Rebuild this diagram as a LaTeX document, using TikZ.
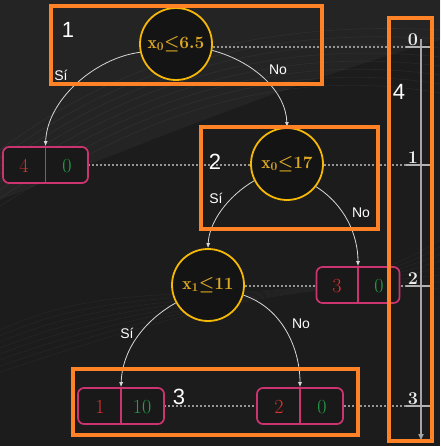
\documentclass[tikz,border=0pt]{standalone}
\usepackage{fontspec}
\newfontfamily\sansf{Liberation Sans}
\usetikzlibrary{arrows.meta}
\definecolor{bgc}{RGB}{28,28,29}
\definecolor{bgl}{RGB}{44,44,46}
\definecolor{orng}{RGB}{255,130,38}
\definecolor{gold}{RGB}{222,170,35}
\definecolor{yel}{RGB}{245,185,5}
\definecolor{mag}{RGB}{204,52,112}
\definecolor{redd}{RGB}{220,50,45}
\definecolor{grn}{RGB}{34,160,74}
\definecolor{edgec}{RGB}{215,215,215}
\definecolor{dotc}{RGB}{150,150,150}
\begin{document}
\begin{tikzpicture}[x=1pt,y=-1pt,
  decision/.style={circle,draw=yel,line width=1.8pt,fill=black!92,minimum size=72pt,inner sep=0pt,
     text=gold,font=\fontsize{17.5}{18}\selectfont\boldmath},
  leafbox/.style={draw=mag,line width=1.7pt,fill=black!90,rounded corners=6pt,minimum height=36pt,inner sep=0pt},
  leaftxt/.style={font=\fontsize{20}{20}\selectfont,inner sep=0pt},
  edge/.style={draw=edgec,line width=0.8pt,-{Latex[length=5pt,width=4pt]}},
  elabel/.style={text=white,font=\sansf\fontsize{14}{14}\selectfont,inner sep=0pt},
  level/.style={draw=dotc,line width=1.2pt,dash pattern=on 1.5pt off 2.5pt},
  hibox/.style={draw=orng,line width=4pt},
  hinum/.style={text=white,font=\sansf\fontsize{22}{22}\selectfont,inner sep=0pt},
  ticklab/.style={text=white!92!black,font=\fontsize{18}{18}\selectfont\bfseries,inner sep=0pt}]
\useasboundingbox (0,0) rectangle (440,446);
% background
\fill[bgc] (0,0) rectangle (440,446);
\fill[bgl,opacity=0.5] (0,0) -- (440,0) -- (440,40) .. controls (300,80) and (150,140) .. (0,200) -- cycle;
\foreach \k in {0,...,7}{
  \draw[white,opacity=0.05,line width=0.6pt] (0,{150+8*\k}) .. controls (120,{60+10*\k}) and (260,{20+6*\k}) .. (440,{30+9*\k});
  \draw[white,opacity=0.04,line width=0.6pt] (0,{330+6*\k}) .. controls (150,{260+9*\k}) and (300,{330-8*\k}) .. (440,{240+7*\k});
}
% level lines
\draw[level] (213,47) -- (434,47);
\draw[level] (88,165) -- (434,165);
\draw[level] (245,286) -- (434,286);
\draw[level] (164,406) -- (434,406);
% depth axis
\coordinate (axtop) at (421,39);
\coordinate (axbot) at (421,441);
\draw[draw=white!65!black,line width=1.4pt,-{Latex[length=7pt,width=6pt]}] (axtop) -- (axbot);
\foreach \yy/\lab in {47/0,165/1,286/2,406/3}{
  \draw[white!70!black,line width=1.4pt] (406,\yy) -- (434,\yy);
  \node[ticklab,anchor=south] at (413,{\yy-1}) {\lab};
}
% decision nodes
\node[decision] (root) at (176,44) {$\mathrm{x}_0{\leq}6.5$};
\node[decision] (n2) at (287,164) {$\mathrm{x}_0{\leq}17$};
\node[decision] (n3) at (208,285) {$\mathrm{x}_1{\leq}11$};
% leaves
\node[leafbox,minimum width=85pt] (l1) at (45.5,165) {};
\node[leafbox,minimum width=83pt] (l2) at (358,285) {};
\node[leafbox,minimum width=86pt] (l3) at (121,406) {};
\node[leafbox,minimum width=86pt] (l4) at (300,406) {};
\foreach \l in {l1,l2,l3,l4}{\draw[mag,line width=1.7pt] (\l.north) -- (\l.south);}
\node[leaftxt,text=redd] (l1a) at (24,166) {4};
\node[leaftxt,text=grn] (l1b) at (67,166) {0};
\node[leaftxt,text=redd] (l2a) at (337,286) {3};
\node[leaftxt,text=grn] (l2b) at (379,286) {0};
\node[leaftxt,text=redd] (l3a) at (100,407) {1};
\node[leaftxt,text=grn] (l3b) at (142,407) {10};
\node[leaftxt,text=redd] (l4a) at (279,407) {2};
\node[leaftxt,text=grn] (l4b) at (322,407) {0};
% edges
\draw[edge] (root.193) .. controls (95,58) and (47,100) .. (l1.north);
\draw[edge] (root.350) .. controls (255,62) and (286,92) .. (n2.north);
\draw[edge] (n2.207) .. controls (228,196) and (209,222) .. (n3.north);
\draw[edge] (n2.322) .. controls (345,205) and (358,235) .. (l2.north);
\draw[edge] (n3.209) .. controls (142,322) and (122,352) .. (l3.north);
\draw[edge] (n3.344) .. controls (282,308) and (300,348) .. (l4.north);
\node[elabel] (e1) at (61,75) {Sí};
\node[elabel] (e2) at (278,70) {No};
\node[elabel] (e3) at (216,198) {Sí};
\node[elabel] (e4) at (361,213) {No};
\node[elabel] (e5) at (127,333) {Sí};
\node[elabel] (e6) at (301,324) {No};
% highlight boxes
\draw[hibox] (51,6) rectangle (322,84);
\draw[hibox] (201,127) rectangle (378,229);
\draw[hibox] (73,369) rectangle (358,435);
\draw[hibox] (389,18) rectangle (432,441);
\node[hinum] (h1) at (68,30) {1};
\node[hinum] (h2) at (215,162) {2};
\node[hinum] (h3) at (179,397) {3};
\node[hinum] (h4) at (399,92) {4};
\end{tikzpicture}
\end{document}
